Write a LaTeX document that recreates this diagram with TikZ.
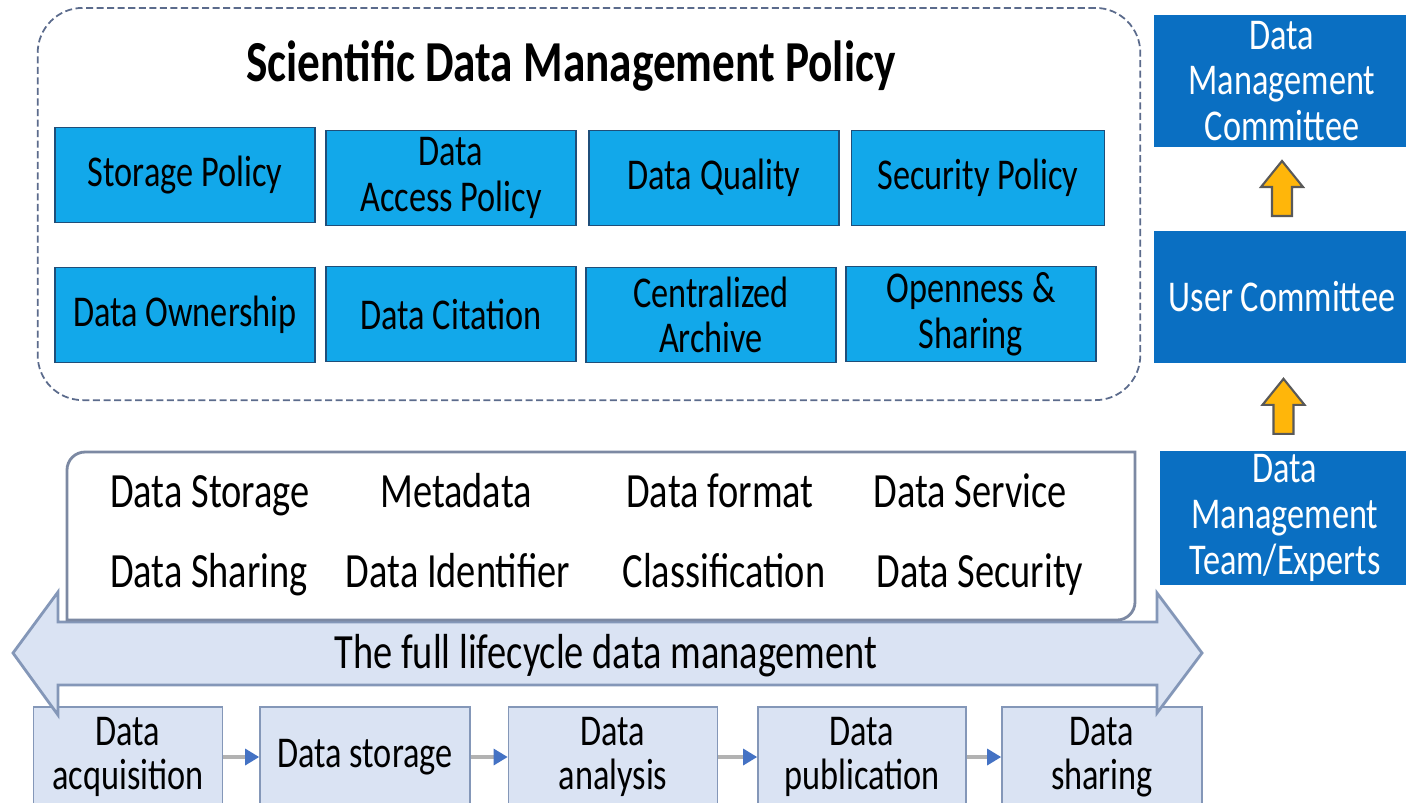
\documentclass[tikz,border=0pt]{standalone}
\usepackage{fontspec}
\setmainfont{Carlito}[FakeStretch=0.78]
\usetikzlibrary{arrows.meta,calc,positioning}
\definecolor{policyBlue}{HTML}{12A8EA}
\definecolor{policyEdge}{HTML}{1F4E79}
\definecolor{boardBlue}{HTML}{0A6FC2}
\definecolor{cycleFill}{HTML}{DAE3F3}
\definecolor{cycleEdge}{HTML}{8497B8}
\definecolor{frameGray}{HTML}{5B6B8C}
\definecolor{liftOrange}{HTML}{FFB60A}
\definecolor{flowBlue}{HTML}{4472C4}

\begin{document}
\begin{tikzpicture}[x=0.01cm,y=-0.01cm,
  policy/.style={draw=policyEdge, fill=policyBlue, minimum width=2.5cm,
    minimum height=0.95cm, inner sep=1pt, align=center,
    font=\fontsize{12.5}{13}\selectfont},
  board/.style={fill=boardBlue, text=white, minimum width=2.55cm,
    minimum height=1.31cm, inner sep=1pt, align=center,
    font=\fontsize{12.5}{13}\selectfont},
  stage/.style={draw=cycleEdge, fill=cycleFill, minimum height=1.0cm,
    inner sep=1pt, align=center, font=\fontsize{12.5}{12.5}\selectfont},
  term/.style={anchor=base, font=\fontsize{14}{14}\selectfont},
  flow/.style={draw=gray!60, line width=1pt,
    -{Triangle[color=flowBlue, length=4pt, width=4.5pt]}},
  lift/.style={draw=gray!70!black, fill=liftOrange, line width=0.6pt},
  lifeband/.style={draw=cycleEdge, fill=cycleFill, line width=0.8pt},
  panel/.style={draw=frameGray!80, fill=white, line width=0.8pt}]
  \useasboundingbox (0,0) rectangle (1406,802);
  \fill[white] (0,0) rectangle (1406,802);

  % policy block
  \node[draw=frameGray, dashed, dash pattern=on 2pt off 1pt, line width=0.5pt,
    rounded corners=0.45cm, minimum width=11.02cm, minimum height=3.92cm]
    (policyframe) at (589,204) {};
  \node[anchor=base, font=\fontsize{16.5}{16.5}\selectfont\bfseries] (title)
    at (571,81) {Scientific Data Management Policy};

  \node[policy, minimum width=2.6cm] (storage) at (185,175) {Storage Policy};
  \node[policy] (access) at (451,178) {Data\\Access Policy};
  \node[policy] (quality) at (714,178) {Data Quality};
  \node[policy, minimum width=2.53cm] (security) at (978,178) {Security Policy};
  \node[policy, minimum width=2.6cm] (ownership) at (185,315) {Data Ownership};
  \node[policy] (citation) at (451,314) {Data Citation};
  \node[policy] (archive) at (711,315) {Centralized\\Archive};
  \node[policy] (openness) at (971,314) {Openness \&\\Sharing};

  % committees
  \node[board] (dmc) at (1282,81) {Data\\Management\\Committee};
  \node[board] (uc) at (1282,297) {User Committee};
  \node[board, minimum width=2.5cm, minimum height=1.3cm] (team)
    at (1285,518) {Data\\Management\\Team/Experts};
  \foreach \lo/\hi in {uc/dmc, team/uc} {
    \coordinate (mid) at ($(\lo.north)!0.5!(\hi.south)$);
    \draw[lift] ($(mid)+(-10,27)$) -- ++(0,-29) -- ++(-11,0) -- ++(21,-26)
      -- ++(21,26) -- ++(-11,0) -- ++(0,29) -- cycle;
  }

  % lifecycle stages
  \node[stage, minimum width=1.89cm] (acq) at (128,757) {Data\\acquisition};
  \node[stage, minimum width=2.1cm] (store) at (365,757) {Data storage};
  \node[stage, minimum width=2.09cm] (analysis) at (613,757) {Data\\analysis};
  \node[stage, minimum width=2.08cm] (pub) at (862,757) {Data\\publication};
  \node[stage, minimum width=2.0cm] (share) at (1102,757) {Data\\sharing};
  \draw[flow] (acq) -- (store);
  \draw[flow] (store) -- (analysis);
  \draw[flow] (analysis) -- (pub);
  \draw[flow] (pub) -- (share);

  \draw[lifeband] (13,653) -- (58,592) -- (58,622) -- (1157,622) -- (1157,593)
    -- (1202,653) -- (1157,713) -- (1157,685) -- (58,685) -- (58,715) -- cycle;
  \node[anchor=base, font=\fontsize{14}{14}\selectfont] (lifecycle)
    at (606,668) {The full lifecycle data management};

  % management elements
  \draw[panel] (67,620) [rounded corners=0.18cm] -- (67,452) [sharp corners]
    -- (1135,452) [rounded corners=0.18cm] -- (1135,620) [sharp corners] -- cycle;
  \node[term] (dstore) at (210,507) {Data Storage};
  \node[term] (meta) at (456,507) {Metadata};
  \node[term] (dformat) at (720,507) {Data format};
  \node[term] (dservice) at (970,507) {Data Service};
  \node[term] (dshare) at (209,587) {Data Sharing};
  \node[term] (dident) at (458,587) {Data Identifier};
  \node[term] (dclass) at (724,587) {Classification};
  \node[term] (dsecure) at (980,587) {Data Security};
\end{tikzpicture}
\end{document}
